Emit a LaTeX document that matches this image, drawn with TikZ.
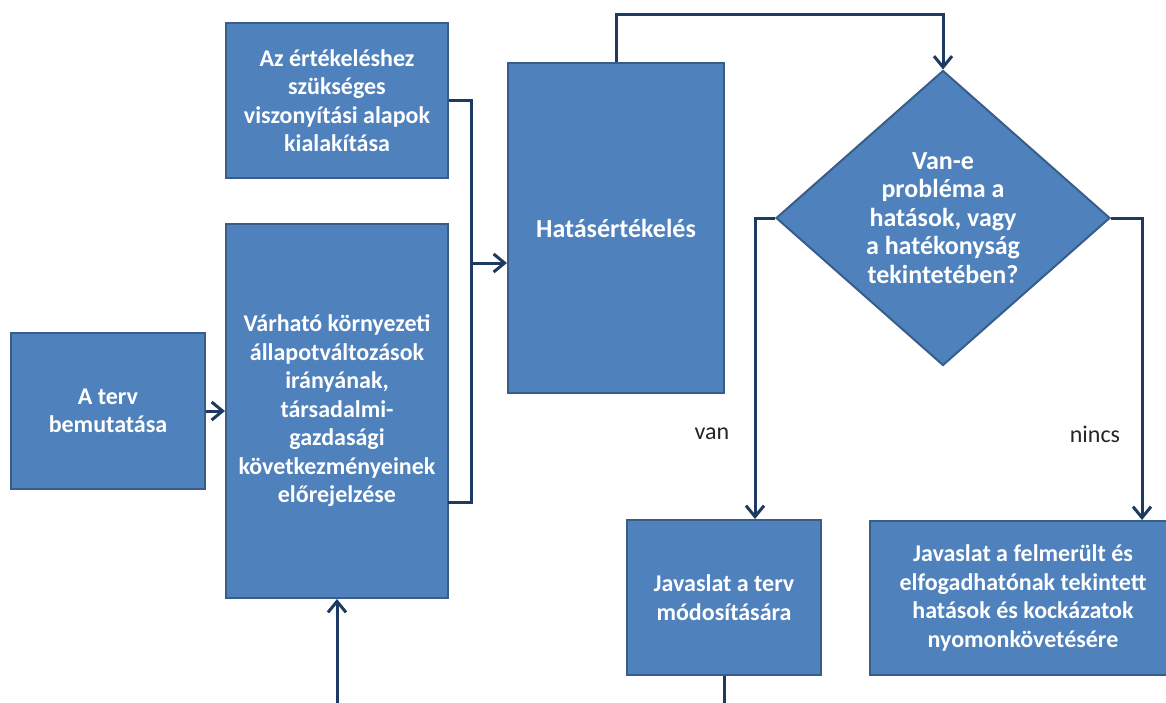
\documentclass[tikz,border=0pt]{standalone}
\usepackage{fontspec}
\setmainfont{Carlito}
\usetikzlibrary{arrows.meta,shapes.geometric}
\definecolor{boxfill}{HTML}{4F81BD}
\definecolor{boxdraw}{HTML}{385D8A}
\definecolor{linecol}{HTML}{1F3A60}
\definecolor{labcol}{HTML}{262626}
\tikzset{
  box/.style={rectangle, fill=boxfill, draw=boxdraw, line width=2pt, inner sep=0pt,
    text=white, align=center, font=\bfseries\fontsize{24}{28.5}\selectfont},
  bigtext/.style={font=\bfseries\fontsize{26}{28.5}\selectfont},
  conn/.style={draw=linecol, line width=3pt},
  arr/.style={conn, -{Straight Barb[length=11pt, width=18pt, line width=3pt]}},
  lab/.style={text=labcol, font=\fontsize{24}{29}\selectfont, inner sep=0pt}
}
\begin{document}
\begin{tikzpicture}[x=1pt, y=-1pt]
\useasboundingbox (0,0) rectangle (1166,702);
\clip (0,0) rectangle (1166,702);
\fill[white] (0,0) rectangle (1166,702);

\node[box, minimum width=222, minimum height=155] (az) at (337,100.5)
  {Az értékeléshez\\szükséges\\viszonyítási alapok\\kialakítása};
\node[box, minimum width=222, minimum height=374] (var) at (337,411)
  {Várható környezeti\\állapotváltozások\\irányának,\\társadalmi-\\gazdasági\\következményeinek\\előrejelzése};
\node[box, minimum width=194, minimum height=156] (terv) at (108,411)
  {A terv\\bemutatása};
\node[box, bigtext, minimum width=216, minimum height=330] (hat) at (616,228)
  {Hatásértékelés};
\node[box, bigtext, shape=diamond, aspect=1.13, minimum width=334, minimum height=295] (dia) at (943,218)
  {Van-e\\probléma a\\hatások, vagy\\a hatékonyság\\tekintetében?};
\node[box, minimum width=194, minimum height=155] (jav1) at (724,597.5)
  {Javaslat a terv\\módosítására};
\node[box, minimum width=306, minimum height=154] (jav2) at (1023,598)
  {Javaslat a felmerült és\\elfogadhatónak tekintett\\hatások és kockázatok\\nyomonkövetésére};

\node[lab] (van) at (712,434) {van};
\node[lab] (nincs) at (1095,434) {nincs};

\coordinate (j) at (471,263);
\coordinate (vr) at (448,502);
\coordinate (top) at (616,14);
\coordinate (dl) at (755,218);
\coordinate (dr) at (1142,218);
\coordinate (b1) at (724,712);
\coordinate (b2) at (337,712);

% connectors
\draw[arr] (terv.east) -- (var.west |- terv.east);
\draw[conn] (az.east) -| (j);
\draw[conn] (vr) -| (j);
\draw[arr] (j) -- (hat.west |- j);
\draw[arr] (hat.north) |- (top) -| (dia.north);
\draw[arr] (dia.west) -| (jav1.north -| dl);
\draw[arr] (dia.east) -| (jav2.north -| dr);
\draw[conn] (jav1.south) -- (b1);
\draw[arr] (b2) -- (var.south);
\end{tikzpicture}
\end{document}
